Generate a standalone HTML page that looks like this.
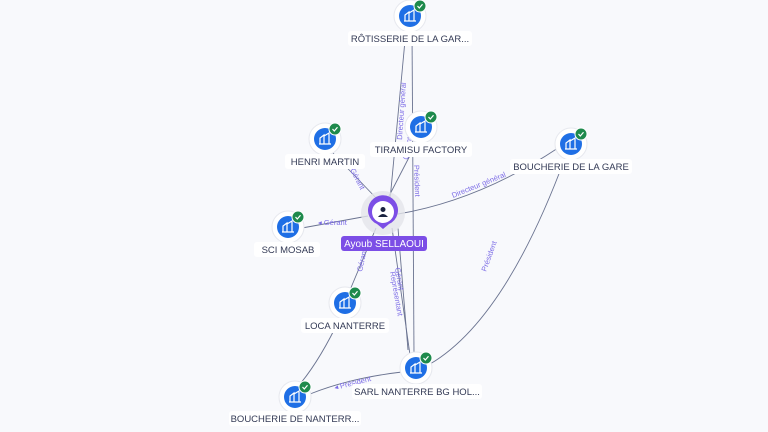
<!DOCTYPE html>
<html><head><meta charset="utf-8"><style>
body{margin:0;width:768px;height:432px;background:#f8f9fc;overflow:hidden;font-family:"Liberation Sans",sans-serif}
svg{position:absolute;left:0;top:0}
.lb{font-size:9.5px;fill:#333a55}
.el{font-size:7.5px;fill:#7b6be6}
</style></head><body>
<svg width="768" height="432" viewBox="0 0 768 432">
<defs>
<g id="n">
<circle r="16" fill="#fff" stroke="#e6e8ee"/>
<circle r="11" fill="#1f6fe5"/>
<path d="M-5 5 V-1 L-1 -4 V5 M-1 -3 L4 -6 V5 M-6 5 H6" stroke="#fff" stroke-width="1.2" fill="none"/>
<circle cx="10" cy="-10" r="6" fill="#1e8a4c" stroke="#fff" stroke-width="1"/>
<path d="M7.5 -10 L9.3 -8 L12.5 -11.8" stroke="#fff" stroke-width="1.2" fill="none"/>
</g>
</defs>
<g stroke="#6a7390" stroke-width="0.9" fill="none">
<path d="M390 200 L406 30"/>
<path d="M412 30 L414 355"/>
<path d="M388 198 L418 140"/>
<path d="M378 200 L330 150"/>
<path d="M368 216 L302 228"/>
<path d="M398 214 Q480 200 558 148"/>
<path d="M376 228 L350 290"/>
<path d="M392 228 L410 355"/>
<path d="M398 228 L408 350"/>
<path d="M430 364 Q505 320 565 158"/>
<path d="M402 372 Q350 378 310 394"/>
<path d="M300 384 Q320 360 340 318"/>
</g>
<g class="el">
<text transform="translate(402,140) rotate(-86)">Directeur général</text>
<text transform="translate(408,160) rotate(-80)">Gérant</text>
<text transform="translate(414,165) rotate(88)">Président</text>
<text transform="translate(350,170) rotate(62)">Gérant</text>
<text x="318" y="225">◂ Gérant</text>
<text transform="translate(453,198) rotate(-22)">Directeur général</text>
<text transform="translate(362,272) rotate(-78)">Gérant</text>
<text transform="translate(395,268) rotate(80)">Gérant</text>
<text transform="translate(390,272) rotate(80)">Représentant</text>
<text transform="translate(486,272) rotate(-70)">Président</text>
<text transform="translate(335,390) rotate(-14)">◂ Président</text>
</g>
<use href="#n" x="410" y="16"/>
<use href="#n" x="421" y="127"/>
<use href="#n" x="325" y="139"/>
<use href="#n" x="571" y="144"/>
<use href="#n" x="288" y="227"/>
<use href="#n" x="345" y="303"/>
<use href="#n" x="416" y="368"/>
<use href="#n" x="295" y="397"/>
<circle cx="383" cy="213" r="22" fill="#e4e5ea" opacity="0.8"/>
<path d="M383 229 L377 224 A15 15 0 1 1 389 224 Z" fill="#7c4ee6"/>
<circle cx="383" cy="212" r="11" fill="#fff"/>
<circle cx="383" cy="209.5" r="2.5" fill="#1b2340"/>
<path d="M378 217 Q383 211 388 217 Z" fill="#1b2340"/>
<rect x="341" y="236" width="86" height="15" rx="3" fill="#7c4ee6"/>
<text x="384" y="247" text-anchor="middle" font-size="10" fill="#fff">Ayoub SELLAOUI</text>
<g class="lb" text-anchor="middle">
<rect x="348" y="31" width="124" height="15" rx="3" fill="#fff"/><text x="410" y="42">RÔTISSERIE DE LA GAR...</text>
<rect x="370" y="142" width="102" height="15" rx="3" fill="#fff"/><text x="421" y="153">TIRAMISU FACTORY</text>
<rect x="285" y="154" width="80" height="15" rx="3" fill="#fff"/><text x="325" y="165">HENRI MARTIN</text>
<rect x="510" y="159" width="122" height="15" rx="3" fill="#fff"/><text x="571" y="170">BOUCHERIE DE LA GARE</text>
<rect x="254" y="242" width="66" height="15" rx="3" fill="#fff"/><text x="288" y="253">SCI MOSAB</text>
<rect x="301" y="318" width="88" height="15" rx="3" fill="#fff"/><text x="345" y="329">LOCA NANTERRE</text>
<rect x="352" y="384" width="130" height="15" rx="3" fill="#fff"/><text x="417" y="395">SARL NANTERRE BG HOL...</text>
<rect x="229" y="411" width="132" height="15" rx="3" fill="#fff"/><text x="295" y="422">BOUCHERIE DE NANTERR...</text>
</g>
</svg>
</body></html>
